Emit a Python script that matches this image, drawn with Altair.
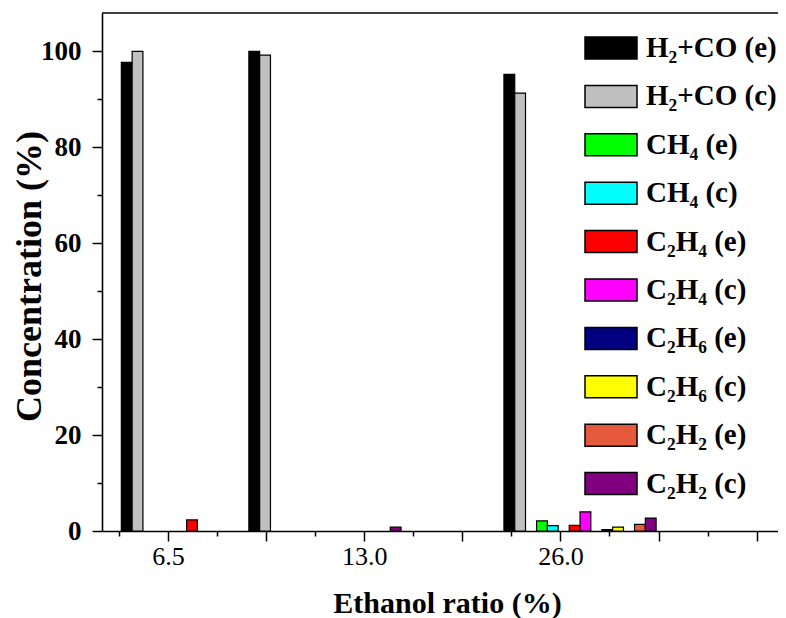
import altair as alt
import pandas as pd

# ---------------- data ----------------
ratios = [6.5, 13.0, 26.0]
series = ["H₂+CO (e)", "H₂+CO (c)", "CH₄ (e)", "CH₄ (c)", "C₂H₄ (e)",
          "C₂H₄ (c)", "C₂H₆ (e)", "C₂H₆ (c)", "C₂H₂ (e)", "C₂H₂ (c)"]
colors = ["#000000", "#C0C0C0", "#00FF00", "#00FFFF", "#FF0000",
          "#FF00FF", "#000080", "#FFFF00", "#E55A3C", "#800080"]

h2co_e = [97.7, 100.0, 95.2]
h2co_c = [100.0, 99.2, 91.3]
ch4_e = [0.0, 0.0, 2.1]
ch4_c = [0.0, 0.0, 1.1]
c2h4_e = [2.3, 0.0, 1.2]
c2h4_c = [0.0, 0.0, 4.0]
c2h6_e = [0.0, 0.0, 0.3]
c2h6_c = [0.0, 0.0, 0.8]
c2h2_e = [0.0, 0.0, 1.4]
c2h2_c = [0.0, 0.8, 2.7]
values = [h2co_e, h2co_c, ch4_e, ch4_c, c2h4_e, c2h4_c, c2h6_e, c2h6_c, c2h2_e, c2h2_c]

x_tick_pos = [5, 15, 25]
x_tick_labels = ["6.5", "13.0", "26.0"]
x_all_ticks = [2.5 * i for i in range(1, 15)]
y_all_ticks = list(range(0, 101, 10))

# ---------------- layout of grouped bars ----------------
PAIR = 1.664
BW = 0.55
rows = []
for i, (name, vals) in enumerate(zip(series, values)):
    k, j = divmod(i, 2)
    for r, v in zip(ratios, vals):
        if v <= 0:
            continue
        left = r + (k - 2) * PAIR + (j - 1) * BW
        rows.append(dict(series=name, ratio=r, value=v, x0=left, x1=left + BW))
df = pd.DataFrame(rows)

W, H = 676, 518
FONT = "Liberation Serif"

label_expr = " : ".join(
    [f"datum.value == {p} ? '{t}'" for p, t in zip(x_tick_pos, x_tick_labels)]
) + " : ''"

xscale = alt.Scale(domain=[1.636, 36.09], nice=False, zero=False)
yscale = alt.Scale(domain=[0, 108], nice=False, zero=True)

bars = alt.Chart(df).mark_bar(stroke="black", strokeWidth=1.2, opacity=1).encode(
    x=alt.X("x0:Q", scale=xscale,
            axis=alt.Axis(values=x_all_ticks, labelExpr=label_expr,
                          tickSize={"condition": {"test": "datum.value % 5 == 0", "value": 10}, "value": 5},
                          title="Ethanol ratio (%)", grid=False,
                          labelFont=FONT, labelFontSize=26, labelFontWeight="normal",
                          labelColor="black", labelPadding=2, labelFlush=False,
                          titleFont=FONT, titleFontSize=30, titleFontWeight="bold",
                          titleColor="black", titleX=345, titleY=72,
                          titleBaseline="middle", titleAnchor="middle")),
    x2="x1:Q",
    y=alt.Y("value:Q", scale=yscale,
            axis=alt.Axis(values=y_all_ticks,
                          labelExpr="datum.value % 20 == 0 ? datum.label : ''",
                          tickSize={"condition": {"test": "datum.value % 20 == 0", "value": 10}, "value": 5},
                          title="Concentration (%)", grid=False,
                          labelFont=FONT, labelFontSize=27, labelFontWeight="bold",
                          labelColor="black", labelPadding=11,
                          titleFont=FONT, titleFontSize=36, titleFontWeight="bold",
                          titleColor="black", titleAngle=270, titleX=-73, titleY=263,
                          titleBaseline="middle", titleAlign="center")),
    y2=alt.datum(0),
    color=alt.Color("series:N", scale=alt.Scale(domain=series, range=colors),
                    legend=alt.Legend(orient="none", legendX=488, legendY=14, title=None,
                                      symbolType="M-1.3,-0.55H1.3V0.55H-1.3Z", symbolSize=1600,
                                      symbolStrokeColor="black", symbolStrokeWidth=1.5,
                                      symbolOpacity=1,
                                      labelFont=FONT, labelFontSize=29, labelFontWeight="bold",
                                      labelColor="black", labelOffset=14, labelLimit=400,
                                      rowPadding=12.4, padding=0)),
)

top = alt.Chart(pd.DataFrame({"a": [0]})).mark_rule(color="black", strokeWidth=1.6).encode(
    x=alt.value(0), x2=alt.value(W), y=alt.value(0)
)

chart = alt.layer(bars, top).properties(
    width=W, height=H,
    autosize=alt.AutoSizeParams(type="none"),
    padding={"left": 94, "top": 5, "right": 0, "bottom": 88},
    background="white",
).configure_view(stroke=None).configure_axis(
    domainColor="black", domainWidth=1.6, tickColor="black", tickWidth=1.5
)

chart.save("out.html", embed_options={"renderer": "svg", "actions": False})
